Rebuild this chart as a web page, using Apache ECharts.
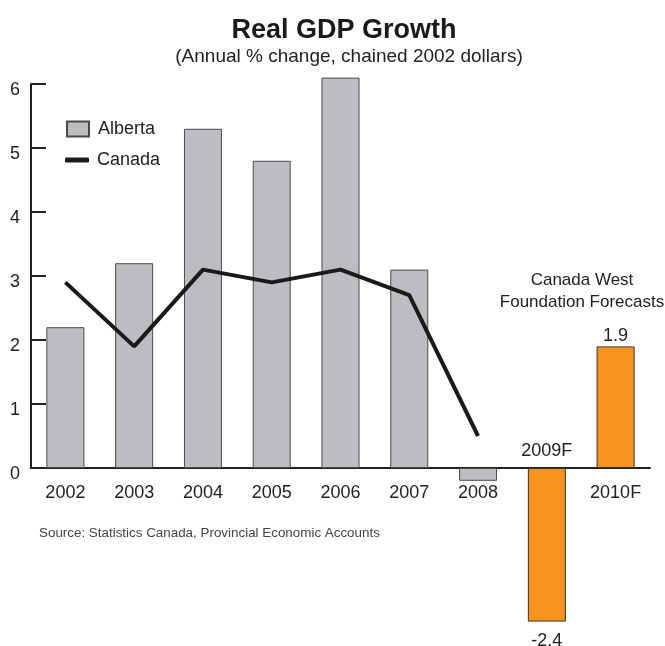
<!DOCTYPE html>
<html>
<head>
<meta charset="utf-8">
<script src="https://cdn.jsdelivr.net/npm/echarts@6/dist/echarts.min.js"></script>
<style>
  html, body { margin: 0; padding: 0; background: #fff; }
  #chart { width: 665px; height: 646px; }
</style>
</head>
<body>
<div id="chart"></div>
<script>
const years = ['2002', '2003', '2004', '2005', '2006', '2007', '2008', '2009F', '2010F'];
const alberta = [2.2, 3.2, 5.3, 4.8, 6.1, 3.1, -0.2];
const forecast = [-2.4, 1.9];
const canada = [2.9, 1.9, 3.1, 2.9, 3.1, 2.7, 0.5];
const labelsAbove = ['2009F'];
const yTicks = [0, 1, 2, 3, 4, 5, 6];

const font = '"Liberation Sans", Arial, sans-serif';
const ink = '#222';

const albertaData = years.map((y, i) => i < alberta.length ? alberta[i] : '-');
const forecastData = years.map((y, i) => {
  const k = i - alberta.length;
  if (k < 0) return '-';
  const v = forecast[k];
  return { value: v, label: { position: v < 0 ? 'bottom' : 'top', distance: v < 0 ? 10 : 1 } };
});

const chart = echarts.init(document.getElementById('chart'));
const option = {
  animation: false,
  textStyle: { fontFamily: font },
  title: [
    {
      text: 'Real GDP Growth', left: 339, top: 12, textAlign: 'center',
      textStyle: { fontSize: 27, fontWeight: 'bold', color: '#1a1a1a', fontFamily: font }
    },
    {
      text: '(Annual % change, chained 2002 dollars)', left: 344, top: 42, textAlign: 'center',
      textStyle: { fontSize: 19, fontWeight: 'normal', color: ink, fontFamily: font }
    },
    {
      text: 'Canada West\nFoundation Forecasts', left: 577, top: 264, textAlign: 'center',
      textStyle: { fontSize: 17, fontWeight: 'normal', color: ink, lineHeight: 22, fontFamily: font }
    },
    {
      text: 'Source: Statistics Canada, Provincial Economic Accounts', left: 34, top: 522,
      textStyle: { fontSize: 13.4, fontWeight: 'normal', color: '#444', fontFamily: font }
    }
  ],
  legend: [
    {
      orient: 'vertical', left: 66, top: 120, padding: 0, itemWidth: 22, itemHeight: 15,
      textStyle: { fontSize: 18, color: ink, padding: [0, 0, 0, 4] },
      data: [{ name: 'Alberta', icon: 'rect' }]
    },
    {
      orient: 'vertical', left: 65, top: 151, padding: 0, itemWidth: 24, itemHeight: 5,
      textStyle: { fontSize: 18, color: ink, padding: [0, 0, 0, 3] },
      data: [{ name: 'Canada', icon: 'roundRect' }]
    }
  ],
  grid: { left: 31, right: 15, top: 84, bottom: 178 },
  xAxis: [
    {
      type: 'category', data: years, boundaryGap: true,
      axisLine: { lineStyle: { color: ink, width: 2 } },
      axisTick: { inside: true, length: 9, lineStyle: { color: ink, width: 2 } },
      axisLabel: {
        interval: 0, margin: 16, fontSize: 18, color: ink,
        formatter: v => labelsAbove.includes(v) ? '' : v
      }
    },
    {
      type: 'category', data: years, position: 'bottom',
      axisLine: { show: false }, axisTick: { show: false },
      axisLabel: {
        inside: true, interval: 0, margin: 8, fontSize: 18, color: ink,
        formatter: v => labelsAbove.includes(v) ? v : ''
      }
    }
  ],
  yAxis: {
    type: 'value', min: yTicks[0], max: yTicks[yTicks.length - 1], interval: 1,
    splitLine: { show: false },
    axisLine: { show: true, lineStyle: { color: ink, width: 2 } },
    axisTick: { show: true, inside: true, length: 15, lineStyle: { color: ink, width: 2 } },
    axisLabel: { margin: 11, fontSize: 18, color: ink, verticalAlign: 'top', lineHeight: 12 }
  },
  series: [
    {
      name: 'Alberta', type: 'bar', data: albertaData, barWidth: 38, barGap: '-100%', clip: false,
      itemStyle: { color: '#bcbdc0', borderColor: '#4a4a4a', borderWidth: 1 }
    },
    {
      name: 'Forecast', type: 'bar', data: forecastData, barWidth: 38, clip: false,
      itemStyle: { color: '#f7941d', borderColor: '#333', borderWidth: 1 },
      label: { show: true, fontSize: 18, color: ink }
    },
    {
      name: 'Canada', type: 'line', data: canada, symbol: 'none', z: 5,
      lineStyle: { color: '#1a1a1a', width: 4 }, itemStyle: { color: '#1a1a1a' }
    }
  ]
};
chart.setOption(option);
</script>
</body>
</html>
